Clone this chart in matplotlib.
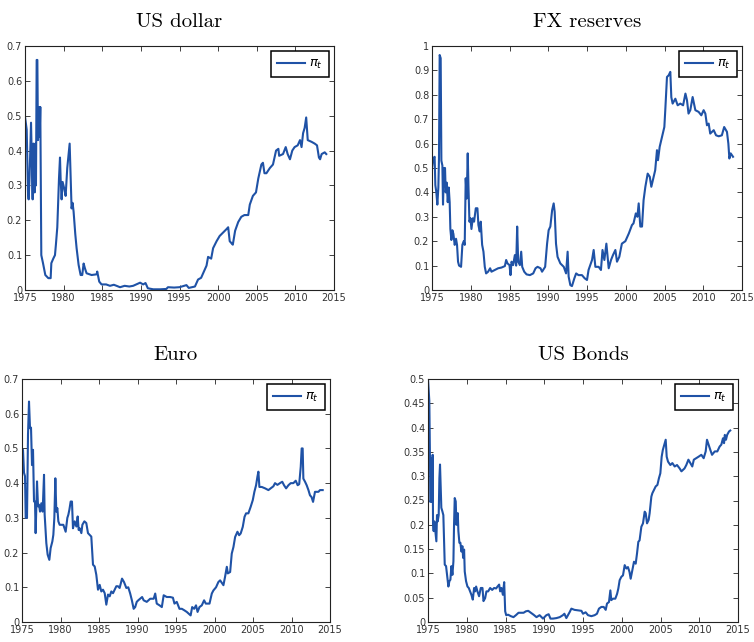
import matplotlib
matplotlib.use("Agg")
import matplotlib.pyplot as plt
from matplotlib.ticker import FuncFormatter, MultipleLocator

# ---------------- data ----------------
usd_years = [1975.00, 1975.22, 1975.39, 1975.47, 1975.60, 1975.78, 1975.99, 1976.08, 1976.25, 1976.34,
             1976.42, 1976.51, 1976.60, 1976.68, 1976.85, 1976.90, 1976.98, 1977.11, 1977.33, 1977.63,
             1978.02, 1978.32, 1978.41, 1978.66, 1978.88, 1979.00, 1979.18, 1979.40, 1979.53, 1979.61,
             1979.74, 1979.87, 1980.09, 1980.26, 1980.47, 1980.78, 1981.03, 1981.16, 1981.29, 1981.51,
             1981.68, 1981.94, 1982.20, 1982.41, 1982.59, 1982.76, 1982.97, 1983.62, 1984.27, 1984.35,
             1984.61, 1984.91, 1985.5, 1986.0, 1986.5, 1986.85, 1987.3, 1987.9, 1988.5, 1989.0,
             1989.9, 1990.3, 1990.6, 1990.9, 1991.6, 1992.5, 1993.3, 1993.5, 1994.3, 1995.0,
             1995.9, 1996.2, 1997.0, 1997.4, 1997.8, 1998.3, 1998.5, 1998.7, 1999.1, 1999.35,
             1999.8, 2000.2, 2000.65, 2001.1, 2001.3, 2001.5, 2001.7, 2001.9, 2002.2, 2002.6,
             2003.0, 2003.4, 2003.9, 2004.1, 2004.5, 2004.9, 2005.2, 2005.6, 2005.8, 2006.0,
             2006.25, 2006.7, 2007.1, 2007.5, 2007.8, 2007.9, 2008.4, 2008.75, 2009.0, 2009.3,
             2009.6, 2009.9, 2010.3, 2010.6, 2010.8, 2011.0, 2011.2, 2011.4, 2011.6, 2012.1,
             2012.5, 2012.8, 2013.05, 2013.2, 2013.4, 2013.8, 2014.0]
usd_vals = [0.497, 0.46, 0.28, 0.26, 0.33, 0.48, 0.26, 0.42, 0.28, 0.42,
            0.30, 0.66, 0.66, 0.43, 0.525, 0.44, 0.525, 0.10, 0.077, 0.043,
            0.034, 0.034, 0.077, 0.09, 0.10, 0.13, 0.18, 0.32, 0.38, 0.32,
            0.26, 0.31, 0.29, 0.27, 0.35, 0.42, 0.234, 0.25, 0.225, 0.16,
            0.12, 0.072, 0.043, 0.043, 0.076, 0.062, 0.048, 0.043, 0.045, 0.053,
            0.024, 0.016, 0.016, 0.012, 0.015, 0.012, 0.008, 0.012, 0.010, 0.012,
            0.021, 0.016, 0.020, 0.005, 0.002, 0.002, 0.003, 0.008, 0.007, 0.008,
            0.014, 0.006, 0.010, 0.030, 0.035, 0.060, 0.070, 0.095, 0.090, 0.120,
            0.140, 0.155, 0.165, 0.175, 0.180, 0.140, 0.135, 0.130, 0.170, 0.195,
            0.210, 0.215, 0.215, 0.245, 0.270, 0.280, 0.320, 0.360, 0.365, 0.335,
            0.335, 0.350, 0.360, 0.400, 0.405, 0.385, 0.390, 0.410, 0.390, 0.375,
            0.400, 0.410, 0.415, 0.430, 0.410, 0.450, 0.465, 0.495, 0.430, 0.425,
            0.420, 0.415, 0.380, 0.375, 0.390, 0.395, 0.390]

fx_years = [1975.00, 1975.17, 1975.34, 1975.43, 1975.56, 1975.69, 1975.82, 1975.90, 1975.99, 1976.12,
            1976.21, 1976.34, 1976.42, 1976.55, 1976.68, 1976.77, 1976.90, 1977.03, 1977.16, 1977.28,
            1977.37, 1977.50, 1977.63, 1977.76, 1977.93, 1978.10, 1978.23, 1978.36, 1978.49, 1978.75,
            1978.92, 1979.09, 1979.22, 1979.35, 1979.48, 1979.61, 1979.70, 1979.83, 1979.96, 1980.09,
            1980.26, 1980.43, 1980.65, 1980.86, 1980.99, 1981.16, 1981.29, 1981.47, 1981.64, 1981.81,
            1981.98, 1982.24, 1982.50, 1982.67, 1983.10, 1983.53, 1983.97, 1984.40, 1984.57, 1984.74,
            1985.00, 1985.13, 1985.26, 1985.47, 1985.69, 1985.86, 1985.99, 1986.12, 1986.34, 1986.51,
            1986.64, 1986.90, 1987.20, 1987.63, 1988.06, 1988.36, 1988.62, 1989.0, 1989.2, 1989.6,
            1989.85, 1990.05, 1990.27, 1990.5, 1990.7, 1990.83, 1991.0, 1991.2, 1991.56, 1992.0,
            1992.3, 1992.5, 1992.63, 1992.85, 1993.06, 1993.37, 1993.6, 1993.9, 1994.35, 1994.7,
            1995.0, 1995.2, 1995.65, 1995.86, 1996.08, 1996.5, 1996.8, 1997.0, 1997.24, 1997.5,
            1997.8, 1998.1, 1998.35, 1998.66, 1998.87, 1999.17, 1999.5, 1999.95, 2000.4, 2000.8,
            2001.0, 2001.3, 2001.5, 2001.67, 2001.88, 2002.1, 2002.3, 2002.53, 2002.83, 2003.1,
            2003.3, 2003.6, 2003.8, 2004.03, 2004.16, 2004.38, 2004.68, 2004.98, 2005.1, 2005.32,
            2005.54, 2005.75, 2005.88, 2006.05, 2006.4, 2006.7, 2007.04, 2007.4, 2007.7, 2007.9,
            2008.1, 2008.33, 2008.63, 2008.98, 2009.4, 2009.75, 2010.05, 2010.27, 2010.48, 2010.7,
            2010.9, 2011.35, 2011.65, 2012.0, 2012.4, 2012.7, 2013.06, 2013.24, 2013.37, 2013.54,
            2013.84]
fx_vals = [0.50, 0.54, 0.546, 0.43, 0.40, 0.35, 0.42, 0.54, 0.963, 0.95,
           0.53, 0.51, 0.35, 0.50, 0.50, 0.40, 0.44, 0.36, 0.42, 0.36,
           0.25, 0.205, 0.245, 0.23, 0.185, 0.21, 0.185, 0.116, 0.10, 0.095,
           0.185, 0.20, 0.185, 0.458, 0.375, 0.56, 0.43, 0.28, 0.294, 0.25,
           0.294, 0.28, 0.335, 0.335, 0.266, 0.24, 0.28, 0.185, 0.157, 0.095,
           0.068, 0.075, 0.089, 0.075, 0.082, 0.089, 0.092, 0.098, 0.123, 0.109,
           0.102, 0.061, 0.116, 0.102, 0.143, 0.10, 0.26, 0.116, 0.102, 0.157,
           0.095, 0.075, 0.064, 0.061, 0.068, 0.089, 0.095, 0.089, 0.075, 0.095,
           0.19, 0.245, 0.26, 0.327, 0.355, 0.32, 0.19, 0.136, 0.109, 0.095,
           0.068, 0.157, 0.055, 0.02, 0.016, 0.048, 0.068, 0.061, 0.061, 0.048,
           0.041, 0.082, 0.123, 0.164, 0.095, 0.095, 0.082, 0.164, 0.123, 0.19,
           0.089, 0.123, 0.143, 0.164, 0.116, 0.136, 0.19, 0.20, 0.232, 0.266,
           0.273, 0.314, 0.30, 0.355, 0.26, 0.26, 0.368, 0.423, 0.477, 0.464,
           0.423, 0.464, 0.491, 0.573, 0.532, 0.587, 0.627, 0.668, 0.737, 0.873,
           0.88, 0.894, 0.79, 0.764, 0.784, 0.757, 0.764, 0.757, 0.805, 0.778,
           0.723, 0.737, 0.791, 0.737, 0.73, 0.716, 0.737, 0.723, 0.675, 0.682,
           0.641, 0.655, 0.634, 0.63, 0.634, 0.668, 0.648, 0.60, 0.539, 0.56,
           0.546]

eur_years = [1975.00, 1975.13, 1975.26, 1975.39, 1975.48, 1975.65, 1975.78, 1975.91, 1976.04, 1976.17,
             1976.30, 1976.43, 1976.56, 1976.69, 1976.77, 1976.95, 1977.08, 1977.21, 1977.34, 1977.51,
             1977.68, 1977.86, 1977.94, 1978.16, 1978.33, 1978.55, 1978.72, 1978.94, 1979.07, 1979.20,
             1979.33, 1979.46, 1979.59, 1979.72, 1979.89, 1980.11, 1980.37, 1980.67, 1980.89, 1981.02,
             1981.15, 1981.32, 1981.49, 1981.62, 1981.84, 1982.06, 1982.23, 1982.36, 1982.49, 1982.71,
             1982.84, 1983.10, 1983.35, 1983.57, 1983.79, 1984.00, 1984.22, 1984.44, 1984.65, 1984.87,
             1985.09, 1985.30, 1985.52, 1985.74, 1985.95, 1986.17, 1986.39, 1986.60, 1986.82, 1987.03,
             1987.25, 1987.47, 1987.68, 1987.99, 1988.25, 1988.55, 1988.8, 1989.05, 1989.27, 1989.5,
             1989.7, 1989.9, 1990.1, 1990.6, 1990.8, 1991.2, 1991.65, 1992.1, 1992.3, 1992.5,
             1992.86, 1993.16, 1993.4, 1993.8, 1994.24, 1994.6, 1994.8, 1995.1, 1995.45, 1995.76,
             1996.06, 1996.4, 1996.75, 1996.9, 1997.1, 1997.36, 1997.6, 1997.8, 1998.05, 1998.35,
             1998.65, 1998.87, 1999.08, 1999.35, 1999.65, 1999.86, 2000.2, 2000.5, 2000.73, 2000.95,
             2001.16, 2001.37, 2001.6, 2001.73, 2002.03, 2002.24, 2002.46, 2002.68, 2002.98, 2003.2,
             2003.4, 2003.67, 2003.9, 2004.1, 2004.4, 2004.7, 2004.97, 2005.18, 2005.4, 2005.57,
             2005.7, 2005.83, 2006.14, 2006.57, 2007.0, 2007.3, 2007.65, 2007.86, 2008.17, 2008.5,
             2008.8, 2009.03, 2009.3, 2009.6, 2009.9, 2010.24, 2010.55, 2010.8, 2011.0, 2011.2,
             2011.32, 2011.45, 2011.54, 2011.76, 2011.97, 2012.2, 2012.4, 2012.6, 2012.8, 2013.05,
             2013.3, 2013.5, 2013.7, 2014.05]
eur_vals = [0.50, 0.496, 0.43, 0.42, 0.30, 0.30, 0.54, 0.635, 0.558, 0.56,
            0.452, 0.496, 0.347, 0.347, 0.256, 0.405, 0.333, 0.338, 0.318, 0.342,
            0.318, 0.424, 0.31, 0.227, 0.194, 0.179, 0.213, 0.232, 0.251, 0.30,
            0.414, 0.318, 0.328, 0.29, 0.28, 0.28, 0.28, 0.26, 0.30, 0.309,
            0.323, 0.347, 0.347, 0.27, 0.29, 0.275, 0.304, 0.265, 0.27, 0.256,
            0.28, 0.29, 0.285, 0.256, 0.251, 0.246, 0.165, 0.16, 0.136, 0.093,
            0.107, 0.088, 0.093, 0.083, 0.05, 0.079, 0.074, 0.088, 0.083, 0.093,
            0.103, 0.103, 0.098, 0.125, 0.115, 0.098, 0.10, 0.082, 0.0625, 0.038,
            0.043, 0.058, 0.0625, 0.072, 0.0625, 0.058, 0.067, 0.067, 0.082, 0.053,
            0.048, 0.043, 0.077, 0.072, 0.072, 0.07, 0.053, 0.058, 0.038, 0.038,
            0.034, 0.029, 0.022, 0.019, 0.043, 0.038, 0.048, 0.029, 0.043, 0.048,
            0.0625, 0.053, 0.053, 0.053, 0.082, 0.091, 0.10, 0.115, 0.12, 0.113,
            0.106, 0.13, 0.159, 0.14, 0.144, 0.197, 0.216, 0.245, 0.26, 0.25,
            0.255, 0.274, 0.303, 0.313, 0.313, 0.332, 0.351, 0.375, 0.394, 0.418,
            0.433, 0.389, 0.389, 0.385, 0.38, 0.385, 0.391, 0.40, 0.395, 0.40,
            0.404, 0.394, 0.385, 0.394, 0.40, 0.40, 0.407, 0.394, 0.397, 0.447,
            0.50, 0.50, 0.413, 0.404, 0.394, 0.38, 0.365, 0.36, 0.346, 0.375,
            0.375, 0.375, 0.38, 0.38]

bond_years = [1975.00, 1975.17, 1975.26, 1975.30, 1975.39, 1975.43, 1975.52, 1975.60, 1975.65, 1975.73,
              1975.82, 1975.95, 1976.08, 1976.16, 1976.25, 1976.38, 1976.47, 1976.55, 1976.64, 1976.72,
              1976.85, 1976.98, 1977.16, 1977.33, 1977.50, 1977.63, 1977.76, 1977.89, 1978.02, 1978.15,
              1978.28, 1978.36, 1978.45, 1978.58, 1978.66, 1978.75, 1978.84, 1978.92, 1979.05, 1979.18,
              1979.31, 1979.44, 1979.53, 1979.66, 1979.74, 1979.91, 1980.09, 1980.26, 1980.43, 1980.60,
              1980.78, 1980.95, 1981.08, 1981.21, 1981.38, 1981.59, 1981.81, 1982.03, 1982.16, 1982.37,
              1982.54, 1982.76, 1983.02, 1983.28, 1983.53, 1983.79, 1983.97, 1984.18, 1984.31, 1984.48,
              1984.66, 1984.83, 1984.96, 1985.09, 1985.34, 1985.69, 1986.03, 1986.34, 1986.68, 1986.98,
              1987.33, 1987.63, 1987.93, 1988.28, 1988.62, 1989.0, 1989.4, 1989.84, 1990.27, 1990.57,
              1990.8, 1991.13, 1991.56, 1992.0, 1992.4, 1992.6, 1992.85, 1993.3, 1993.5, 1993.9,
              1994.35, 1994.8, 1995.0, 1995.34, 1995.65, 1996.08, 1996.5, 1996.8, 1997.06, 1997.37,
              1997.67, 1997.93, 1998.1, 1998.35, 1998.53, 1998.65, 1998.87, 1999.17, 1999.4, 1999.56,
              1999.73, 1999.95, 2000.16, 2000.38, 2000.6, 2000.8, 2001.0, 2001.15, 2001.37, 2001.58,
              2001.8, 2001.97, 2002.14, 2002.3, 2002.53, 2002.74, 2002.96, 2003.09, 2003.26, 2003.47,
              2003.6, 2003.82, 2003.95, 2004.16, 2004.38, 2004.6, 2004.8, 2004.98, 2005.15, 2005.3,
              2005.54, 2005.67, 2005.8, 2005.97, 2006.27, 2006.53, 2006.83, 2007.13, 2007.47, 2007.7,
              2007.9, 2008.1, 2008.33, 2008.6, 2008.85, 2009.1, 2009.3, 2009.6, 2009.9, 2010.27,
              2010.57, 2010.83, 2011.0, 2011.2, 2011.43, 2011.65, 2012.0, 2012.33, 2012.63, 2012.85,
              2013.06, 2013.2, 2013.3, 2013.45, 2013.6, 2013.84, 2014.0]
bond_vals = [0.50, 0.455, 0.33, 0.247, 0.25, 0.337, 0.247, 0.344, 0.20, 0.187,
             0.207, 0.187, 0.166, 0.22, 0.207, 0.22, 0.296, 0.324, 0.276, 0.235,
             0.228, 0.22, 0.118, 0.115, 0.09, 0.073, 0.084, 0.087, 0.115, 0.097,
             0.125, 0.20, 0.255, 0.248, 0.20, 0.207, 0.224, 0.187, 0.163, 0.163,
             0.145, 0.156, 0.132, 0.149, 0.104, 0.084, 0.073, 0.07, 0.063, 0.056,
             0.046, 0.07, 0.063, 0.073, 0.063, 0.053, 0.07, 0.07, 0.043, 0.049,
             0.063, 0.063, 0.07, 0.066, 0.07, 0.069, 0.073, 0.077, 0.063, 0.07,
             0.056, 0.082, 0.022, 0.014, 0.015, 0.012, 0.01, 0.014, 0.019, 0.019,
             0.019, 0.022, 0.023, 0.019, 0.015, 0.01, 0.014, 0.007, 0.014, 0.016,
             0.007, 0.007, 0.008, 0.01, 0.014, 0.017, 0.008, 0.021, 0.0275, 0.025,
             0.024, 0.023, 0.017, 0.02, 0.014, 0.012, 0.014, 0.017, 0.0275, 0.031,
             0.031, 0.025, 0.038, 0.041, 0.065, 0.045, 0.048, 0.048, 0.058, 0.069,
             0.086, 0.093, 0.096, 0.117, 0.11, 0.113, 0.103, 0.089, 0.107, 0.124,
             0.12, 0.141, 0.165, 0.168, 0.196, 0.203, 0.227, 0.224, 0.203, 0.21,
             0.224, 0.258, 0.265, 0.272, 0.279, 0.282, 0.296, 0.306, 0.34, 0.354,
             0.368, 0.375, 0.34, 0.33, 0.323, 0.327, 0.32, 0.323, 0.316, 0.31,
             0.313, 0.316, 0.323, 0.334, 0.327, 0.32, 0.334, 0.337, 0.34, 0.344,
             0.337, 0.351, 0.375, 0.365, 0.354, 0.344, 0.351, 0.351, 0.361, 0.365,
             0.378, 0.368, 0.385, 0.375, 0.385, 0.392, 0.394]

titles = ["US dollar", "FX reserves", "Euro", "US Bonds"]
ymaxes = [0.7, 1.0, 0.7, 0.5]
ysteps = [0.1, 0.1, 0.1, 0.05]
xticks = [1975, 1980, 1985, 1990, 1995, 2000, 2005, 2010, 2015]
legend_label = r"$\pi_t$"

series = [(usd_years, usd_vals), (fx_years, fx_vals), (eur_years, eur_vals), (bond_years, bond_vals)]

# ---------------- layout ----------------
W, H = 754, 642
boxes = [(25, 46, 334, 290), (432, 46, 742, 290), (22, 379, 330, 622), (428, 379, 738, 622)]
line_color = "#1f52a6"

fig = plt.figure(figsize=(W / 100, H / 100), dpi=100)

fmt = FuncFormatter(lambda v, p: f"{round(v, 4):g}")

for (x0, y0, x1, y1), title, ymax, ystep, (xs, ys) in zip(boxes, titles, ymaxes, ysteps, series):
    ax = fig.add_axes([x0 / W, 1 - y1 / H, (x1 - x0) / W, (y1 - y0) / H])
    ax.plot(xs, ys, color=line_color, lw=1.5, label=legend_label)
    ax.set_xlim(1975, 2015)
    ax.set_ylim(0, ymax)
    ax.set_xticks(xticks)
    ax.yaxis.set_major_locator(MultipleLocator(ystep))
    ax.yaxis.set_major_formatter(fmt)
    ax.tick_params(direction="in", top=True, right=True, length=3.5, width=0.6,
                   labelsize=7, pad=2, colors="#222222", labelcolor="#333333")
    for s in ax.spines.values():
        s.set_linewidth(0.8)
        s.set_color("#222222")
    ax.set_title(title, fontsize=15, fontfamily="cmr10", pad=14)
    leg = ax.legend(loc="upper right", fontsize=9.5, handlelength=2.1, handletextpad=0.3,
                    borderpad=0.45, borderaxespad=0.4, fancybox=False, framealpha=1,
                    edgecolor="black")
    leg.get_frame().set_linewidth(1.1)

fig.savefig("out.png", dpi=100)
